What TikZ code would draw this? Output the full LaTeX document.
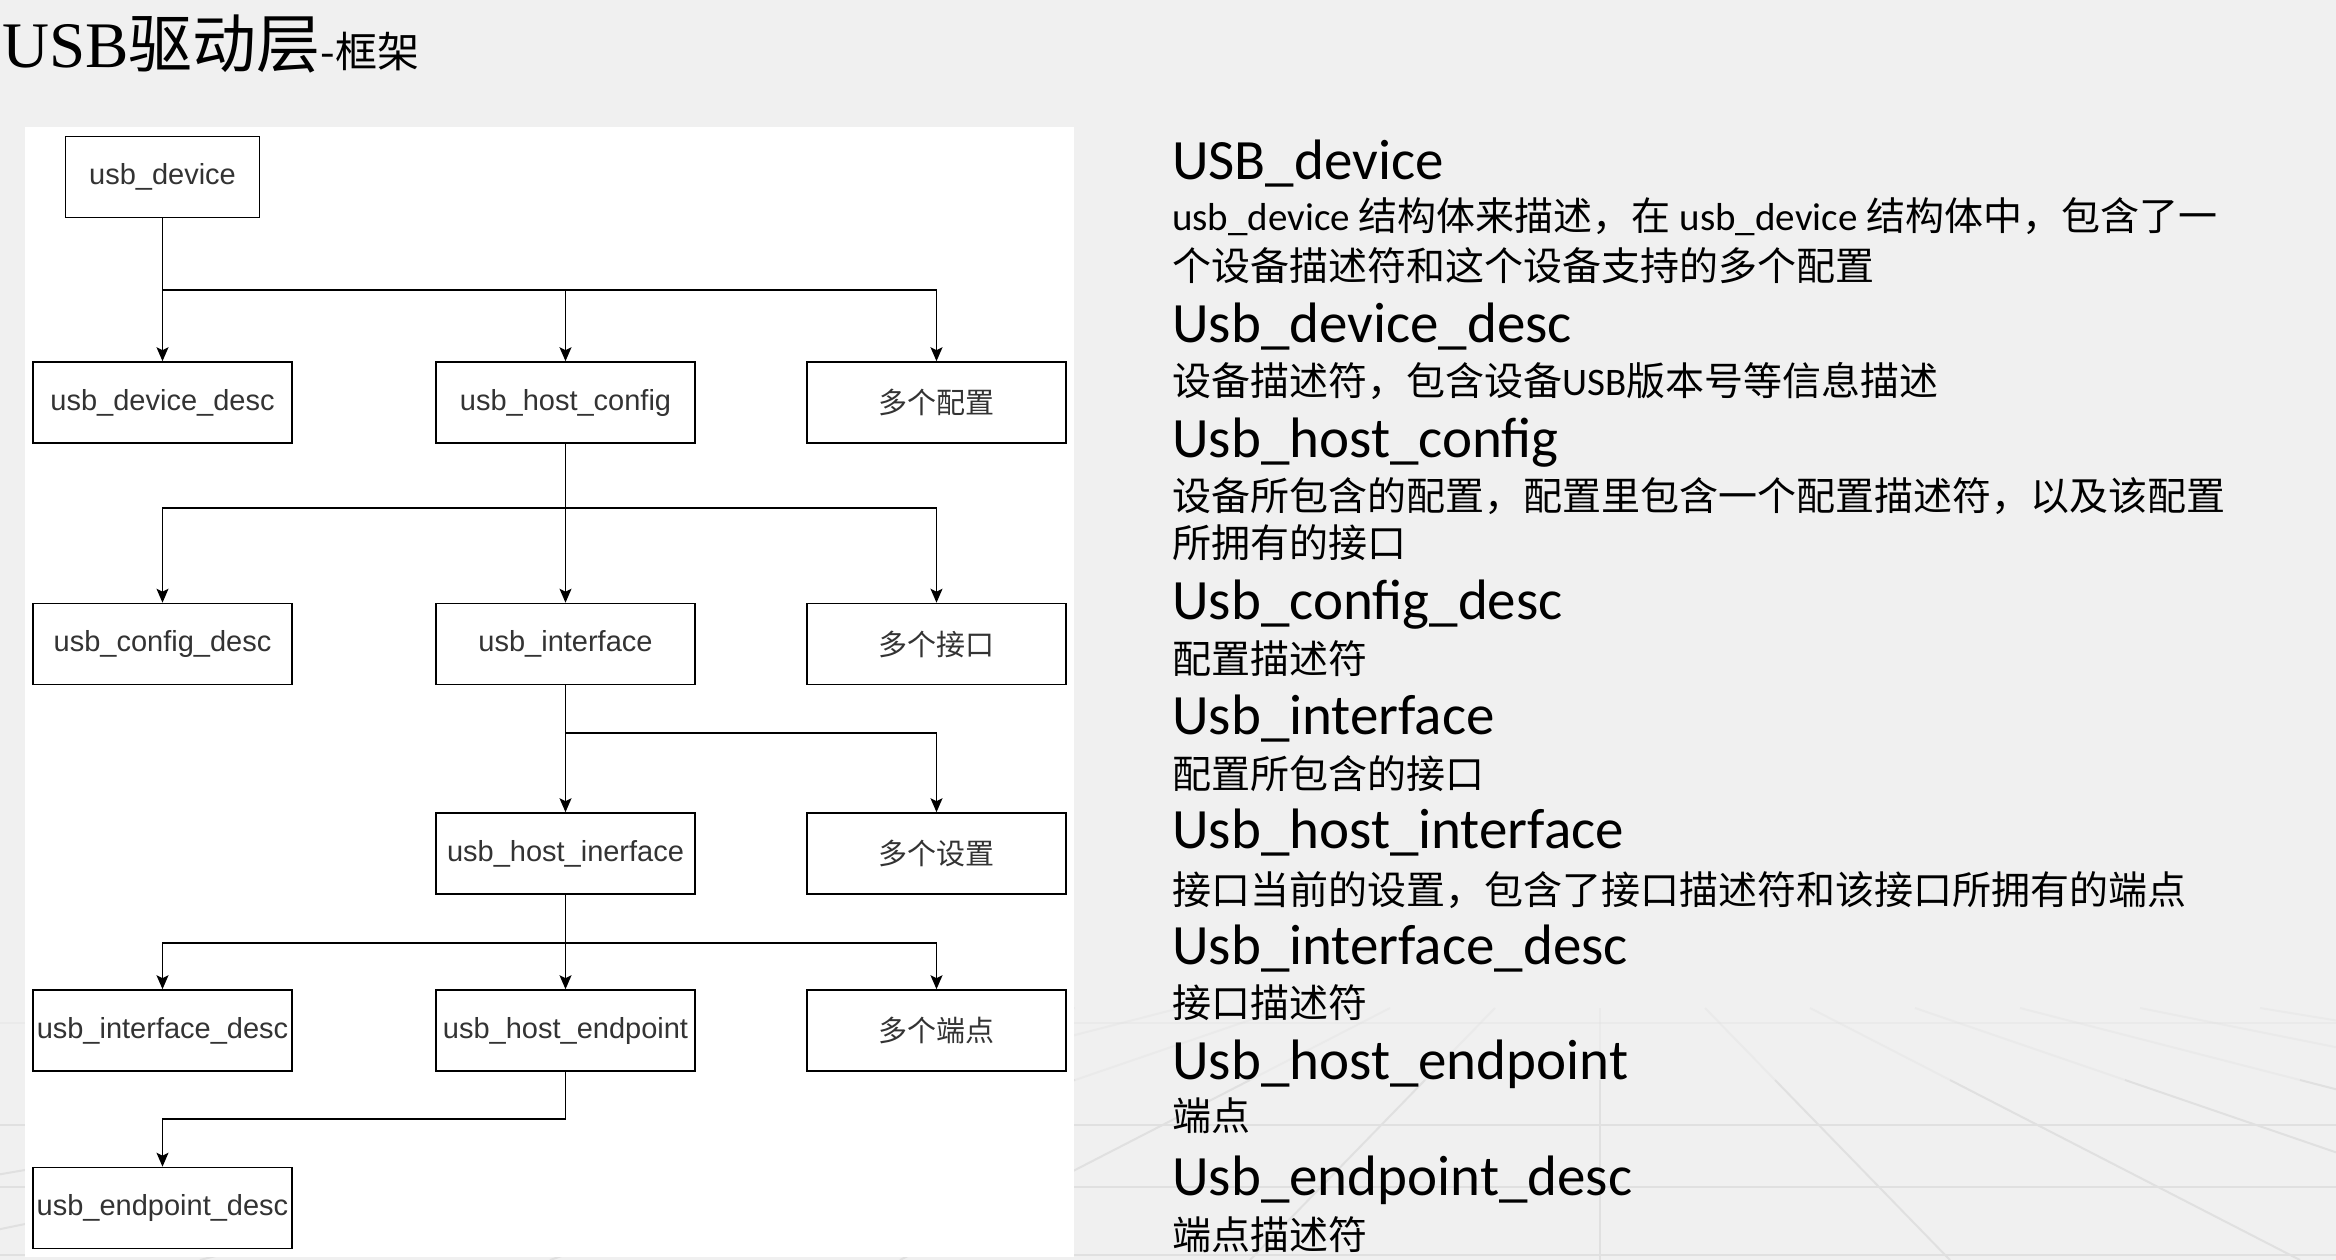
\documentclass[tikz,border=0pt]{standalone}
\usepackage{fontspec}
\setmainfont{Carlito}
\newfontfamily\cjk{Noto Sans CJK SC}
\newfontfamily\arialf{Liberation Sans}
\newfontfamily\seriff{Liberation Serif}
\usetikzlibrary{arrows.meta,calc}
\definecolor{bgc}{HTML}{F0F0F0}
\definecolor{gridc}{HTML}{E0E0E0}
\definecolor{boxtext}{HTML}{333333}
\tikzset{
  box/.style={draw=black, line width=1.6pt, fill=white, minimum width=259pt,
    minimum height=81pt, inner sep=0pt, text=boxtext,
    font=\arialf\fontsize{29}{32}\selectfont},
  cbox/.style={box, font=\cjk\fontsize{29}{32}\selectfont},
  ln/.style={line width=1.6pt},
  arr/.style={line width=1.6pt, -{Stealth[length=14pt,width=12pt,inset=3pt]}},
  head/.style={anchor=base west, inner sep=0pt, font=\fontsize{57}{60}\selectfont},
  body/.style={anchor=base west, inner sep=0pt, font=\fontsize{39}{42}\selectfont},
  gridline/.style={draw=gridc, line width=2pt}
}
\begin{document}
\begin{tikzpicture}[x=1pt,y=-1pt]
\useasboundingbox (0,0) rectangle (2336,1260);
\fill[bgc] (0,0) rectangle (2336,1260);
% faint perspective floor grid
\coordinate (vp) at (1600,900);
\begin{scope}
\clip (0,0) rectangle (2336,1260);
\foreach \xb in {-500,-150,200,550,900,1250,1600,1950,2300,2650,3000,3400,3800,4300} {
  \draw[gridline, opacity=0.35] ($(vp)!0.3!(\xb,1260)$) -- ($(vp)!0.5!(\xb,1260)$);
  \draw[gridline] ($(vp)!0.5!(\xb,1260)$) -- (\xb,1260);
}
\draw[gridline, opacity=0.35] (0,1023) -- (2336,1023);
\foreach \yy in {1125,1187,1255} \draw[gridline] (0,\yy) -- (2336,\yy);
\end{scope}
% white diagram panel
\fill[white] (24.5,127) rectangle (1074,1257);
% title
\node[anchor=base west, inner sep=0pt] (title) at (2,68)
  {\seriff\fontsize{65}{70}\selectfont USB\cjk\fontsize{64}{70}\selectfont 驱动层\fontsize{42}{46}\selectfont -框架};
% boxes
\node[box, minimum width=194pt] (dev) at (162.5,177) {usb\_device};
\node[box] (ddesc) at (162.5,402.5) {usb\_device\_desc};
\node[box] (hcfg) at (565.5,402.5) {usb\_host\_config};
\node[cbox] (mcfg) at (936.5,402.5) {多个配置};
\node[box] (cdesc) at (162.5,644) {usb\_config\_desc};
\node[box] (intf) at (565.5,644) {usb\_interface};
\node[cbox] (mif) at (936.5,644) {多个接口};
\node[box] (hif) at (565.5,853.5) {usb\_host\_inerface};
\node[cbox] (mset) at (936.5,853.5) {多个设置};
\node[box] (ifdesc) at (162.5,1030.5) {usb\_interface\_desc};
\node[box] (hep) at (565.5,1030.5) {usb\_host\_endpoint};
\node[cbox] (mep) at (936.5,1030.5) {多个端点};
\node[box] (epdesc) at (162.5,1208) {usb\_endpoint\_desc};
% connectors
\coordinate (b1) at (162.5,290);
\draw[ln] (dev.south) -- (b1);
\draw[arr] (b1) -- (ddesc.north);
\draw[arr] (b1) -| (mcfg.north);
\draw[arr] (hcfg.north |- b1) -- (hcfg.north);
\coordinate (b2) at (565.5,508);
\draw[arr] (hcfg.south) -- (intf.north);
\draw[arr] (b2) -| (cdesc.north);
\draw[arr] (b2) -| (mif.north);
\coordinate (b3) at (565.5,733);
\draw[arr] (intf.south) -- (hif.north);
\draw[arr] (b3) -| (mset.north);
\coordinate (b4) at (565.5,943);
\draw[arr] (hif.south) -- (hep.north);
\draw[arr] (b4) -| (ifdesc.north);
\draw[arr] (b4) -| (mep.north);
\coordinate (b5) at (162.5,1119);
\draw[arr] (hep.south) |- (b5) -- (epdesc.north);
% right-hand text
\node[head] (h1) at (1172,180) {USB\_device};
\node[body] (t1a) at (1172,230) {usb\_device {\cjk 结构体来描述，在} usb\_device {\cjk 结构体中，包含了一}};
\node[body] (t1b) at (1172,280) {\cjk 个设备描述符和这个设备支持的多个配置};
\node[head] (h2) at (1172,342) {Usb\_device\_desc};
\node[body] (t2) at (1172,395) {{\cjk 设备描述符，包含设备}USB{\cjk 版本号等信息描述}};
\node[head] (h3) at (1172,457) {Usb\_host\_config};
\node[body] (t3a) at (1172,510) {\cjk 设备所包含的配置，配置里包含一个配置描述符，以及该配置};
\node[body] (t3b) at (1172,557) {\cjk 所拥有的接口};
\node[head] (h4) at (1172,619) {Usb\_config\_desc};
\node[body] (t4) at (1172,673) {\cjk 配置描述符};
\node[head] (h5) at (1172,734) {Usb\_interface};
\node[body] (t5) at (1172,788) {\cjk 配置所包含的接口};
\node[head] (h6) at (1172,848) {Usb\_host\_interface};
\node[body] (t6) at (1172,904) {\cjk 接口当前的设置，包含了接口描述符和该接口所拥有的端点};
\node[head] (h7) at (1172,964) {Usb\_interface\_desc};
\node[body] (t7) at (1172,1017) {\cjk 接口描述符};
\node[head] (h8) at (1172,1079) {Usb\_host\_endpoint};
\node[body] (t8) at (1172,1130) {\cjk 端点};
\node[head] (h9) at (1172,1195) {Usb\_endpoint\_desc};
\node[body] (t9) at (1172,1249) {\cjk 端点描述符};
\end{tikzpicture}
\end{document}
